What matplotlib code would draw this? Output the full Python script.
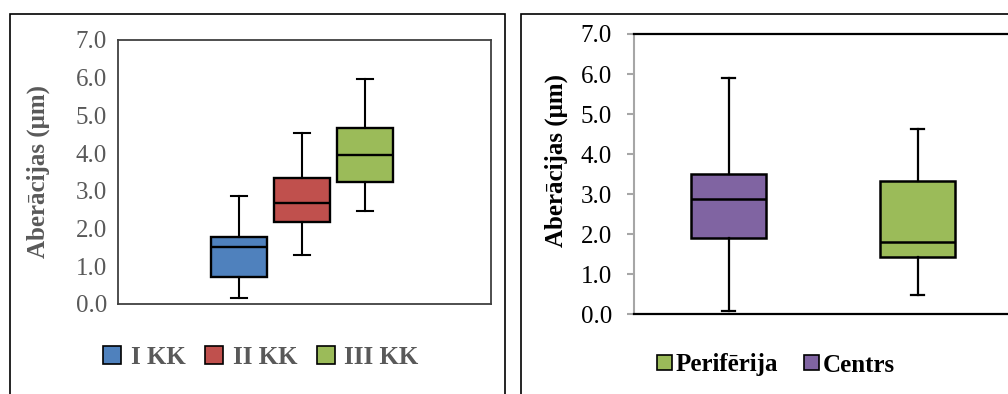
import matplotlib.pyplot as plt
from matplotlib.patches import Patch, Rectangle

# left chart: three groups (I KK, II KK, III KK)
kk_labels = ["I KK", "II KK", "III KK"]
kk_colors = ["#4F81BD", "#C0504D", "#9BBB59"]
kk_min = [0.16, 1.30, 2.46]
kk_q1 = [0.72, 2.18, 3.24]
kk_med = [1.50, 2.69, 3.94]
kk_q3 = [1.77, 3.35, 4.67]
kk_max = [2.86, 4.54, 5.97]

# right chart: Centrs (purple box) and Periferija (green box)
zone_min = [0.08, 0.47]
zone_q1 = [1.90, 1.44]
zone_med = [2.88, 1.80]
zone_q3 = [3.50, 3.34]
zone_max = [5.89, 4.64]
zone_colors = ["#8064A2", "#9BBB59"]
legend_labels = ["Perifērija", "Centrs"]
legend_colors = ["#9BBB59", "#8064A2"]

yticks = [0, 1, 2, 3, 4, 5, 6, 7]
ylabel = "Aberācijas (μm)"

W, H = 1008, 394
fig = plt.figure(figsize=(W / 100, H / 100), dpi=100)
plt.rcParams["font.family"] = ["Liberation Serif", "DejaVu Serif"]


def fx(px):
    return px / W


def fy(py):
    return 1 - py / H


def stats(lo, q1, med, q3, hi):
    return [dict(whislo=a, q1=b, med=c, q3=d, whishi=e, fliers=[])
            for a, b, c, d, e in zip(lo, q1, med, q3, hi)]


# panel borders
fig.add_artist(Rectangle((fx(10), -0.1), fx(495), fy(14) + 0.1, fill=False,
                         ec="black", lw=1.2, transform=fig.transFigure))
fig.add_artist(Rectangle((fx(521), -0.1), 0.6, fy(14) + 0.1, fill=False,
                         ec="black", lw=1.2, transform=fig.transFigure))

# ---- left panel
ax1 = fig.add_axes([fx(118), fy(304), fx(491 - 118), fy(40) - fy(304)])
bp = ax1.bxp(stats(kk_min, kk_q1, kk_med, kk_q3, kk_max), positions=[1, 2, 3],
             widths=0.9, capwidths=0.25, patch_artist=True, showfliers=False,
             boxprops=dict(lw=1.7, edgecolor="black"),
             whiskerprops=dict(lw=1.5, color="black"),
             capprops=dict(lw=1.5, color="black"),
             medianprops=dict(lw=1.7, color="black"))
for box, c in zip(bp["boxes"], kk_colors):
    box.set_facecolor(c)
ax1.set_xlim(-0.92, 5.0)
ax1.set_ylim(0, 7)
ax1.set_yticks(yticks)
ax1.set_yticklabels([f"{v:.1f}" for v in yticks])
ax1.set_xticks([])
ax1.tick_params(axis="y", length=0, pad=8, labelsize=18, labelcolor="#595959")
for s in ax1.spines.values():
    s.set_color("#404040")
    s.set_linewidth(1.3)
fig.text(fx(38), fy(171.5), ylabel, rotation=90, ha="center", va="center",
         fontsize=18, fontweight="bold", color="#595959")
h1 = [Patch(facecolor=c, edgecolor="black", lw=1.2, label=l)
      for c, l in zip(kk_colors, kk_labels)]
leg1 = ax1.legend(handles=h1, loc="center", bbox_to_anchor=(fx(261), fy(357)),
                  bbox_transform=fig.transFigure, ncol=3, frameon=False,
                  handlelength=0.72, handleheight=0.72, handletextpad=0.4,
                  columnspacing=0.76, prop=dict(size=18, weight="bold"))
for t in leg1.get_texts():
    t.set_color("#595959")

# ---- right panel
ax2 = fig.add_axes([fx(634), fy(314.3), fx(1012 - 634), fy(34) - fy(314.3)])
bp2 = ax2.bxp(stats(zone_min, zone_q1, zone_med, zone_q3, zone_max),
              positions=[1, 2], widths=0.4, capwidths=0.064, patch_artist=True,
              showfliers=False,
              boxprops=dict(lw=1.8, edgecolor="black"),
              whiskerprops=dict(lw=1.6, color="black"),
              capprops=dict(lw=1.6, color="black"),
              medianprops=dict(lw=1.8, color="black"))
for box, c in zip(bp2["boxes"], zone_colors):
    box.set_facecolor(c)
ax2.set_xlim(0.5, 2.5)
ax2.set_ylim(0, 7)
ax2.set_yticks(yticks)
ax2.set_yticklabels([f"{v:.1f}" for v in yticks])
ax2.set_xticks([])
ax2.tick_params(axis="y", length=5, width=1.5, color="#a6a6a6", pad=11,
                labelsize=18, labelcolor="black")
ax2.spines["left"].set_color("#a6a6a6")
ax2.spines["left"].set_linewidth(1.5)
for k in ["top", "bottom", "right"]:
    ax2.spines[k].set_color("black")
    ax2.spines[k].set_linewidth(1.6)
fig.text(fx(556.5), fy(161), ylabel, rotation=90, ha="center", va="center",
         fontsize=18, fontweight="bold", color="black")
h2 = [Patch(facecolor=c, edgecolor="black", lw=1.2, label=l)
      for c, l in zip(legend_colors, legend_labels)]
ax2.legend(handles=h2, loc="center", bbox_to_anchor=(fx(776), fy(365)),
           bbox_transform=fig.transFigure, ncol=2, frameon=False,
           handlelength=0.6, handleheight=0.55, handletextpad=0.15,
           columnspacing=1.05, prop=dict(size=18, weight="bold"))

fig.savefig("out.png", dpi=100)
